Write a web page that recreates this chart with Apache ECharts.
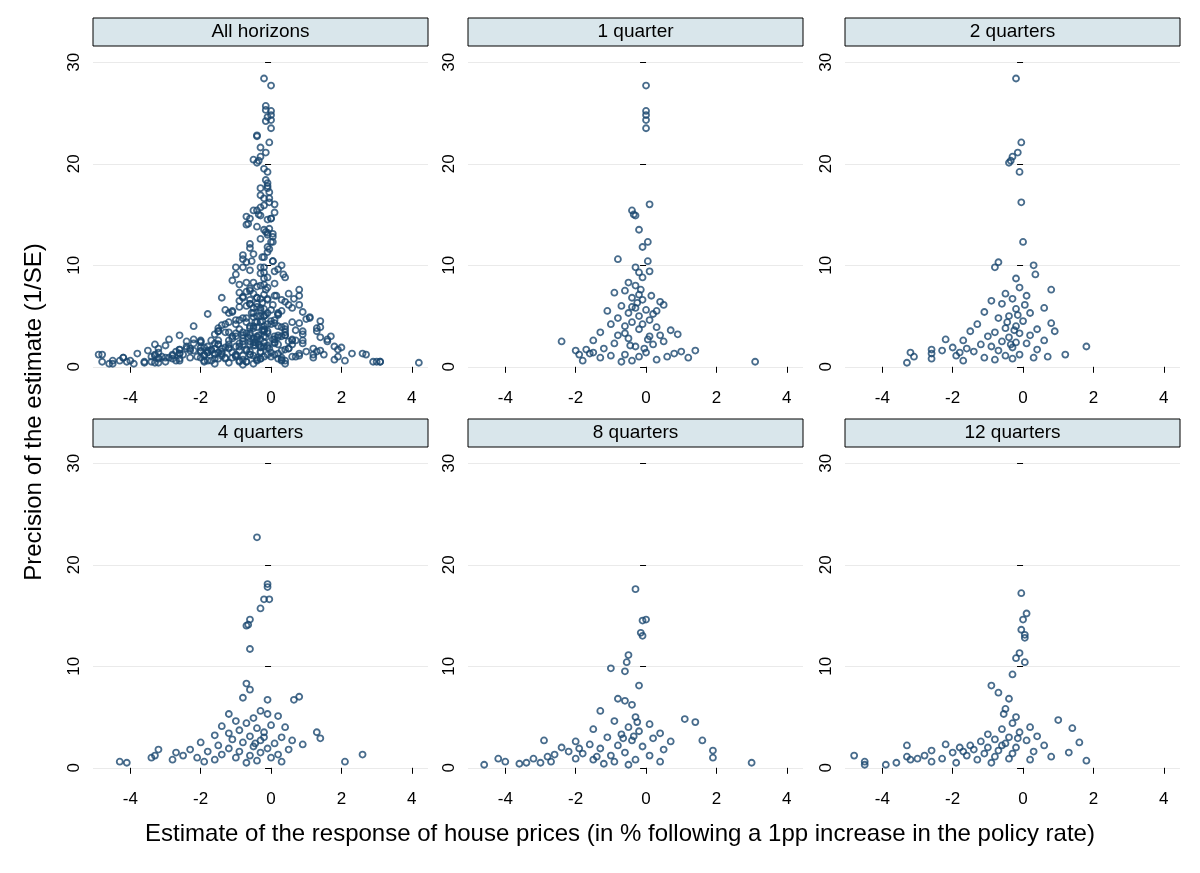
<!DOCTYPE html>
<html><head><meta charset="utf-8">
<script src="https://cdn.jsdelivr.net/npm/echarts@6/dist/echarts.min.js"></script>
<style>html,body{margin:0;background:#fff}#c{width:1200px;height:873px}</style>
</head><body><div id="c"></div>
<script>
var panelTitles = ['All horizons', '1 quarter', '2 quarters', '4 quarters', '8 quarters', '12 quarters'];
var xTicks = [-4, -2, 0, 2, 4];
var yTicks = [0, 10, 20, 30];

var q1 = [[0,27.7],[0,25.2],[0,24.8],[0,24.3],[0,23.5],[0.1,16],[-0.4,15.4],[-0.35,15],[-0.3,14.9],[-0.2,13.5],[0.05,12.3],[-0.1,11.8],[-0.8,10.6],[0.05,10.4],[-0.3,9.8],[-0.2,9.3],[0.1,9.4],[-0.1,8.8],[-0.5,8.3],[-0.3,8],[-0.6,7.5],[-0.9,7.3],[-0.2,7.1],[0.15,7],[-0.4,6.8],[-0.1,6.6],[0.4,6.4],[0.5,6.1],[-0.7,6],[-0.3,5.8],[0,5.6],[-1.1,5.5],[-0.5,5.3],[0.2,5.2],[-0.2,5],[-0.8,4.8],[0.1,4.6],[-0.4,4.4],[-1.0,4.2],[-0.6,4],[0.3,3.9],[-0.2,3.7],[0.7,3.6],[-1.3,3.4],[0.9,3.2],[-0.8,3.1],[0.1,3],[-0.5,2.8],[-1.5,2.6],[0.5,2.5],[-2.4,2.5],[-0.9,2.3],[0.2,2.2],[-1.7,1.7],[-1.2,1.8],[-0.3,2],[1.0,1.5],[1.4,1.6],[-2.0,1.6],[-1.9,1.2],[-1.6,1.3],[-1.0,1.1],[-0.6,1.2],[0.6,1.0],[0.8,1.3],[-0.2,1.0],[0.0,1.4],[-1.8,0.6],[3.1,0.5],[1.2,0.9],[-0.4,0.6],[-1.3,0.9],[0.3,0.7],[-0.7,0.5],[-1.5,1.4],[-0.4,5.9],[-0.1,4.2],[-0.6,3.3],[0.05,2.7],[-0.25,6.3],[-0.15,7.6],[0.3,5.5],[-0.45,2.1],[-0.05,1.8],[0.4,3.1]];
var q2 = [[-0.2,28.4],[-0.05,22.1],[-0.15,21.1],[-0.3,20.7],[-0.35,20.3],[-0.4,20.1],[-0.1,19.2],[-0.05,16.2],[0,12.3],[-0.7,10.3],[-0.8,9.8],[0.3,10],[0.35,9.1],[-0.2,8.7],[-0.1,7.8],[0.8,7.6],[-0.5,7.2],[0.1,7],[-0.3,6.7],[-0.9,6.5],[-0.6,6.2],[0.6,5.8],[-0.2,5.7],[-1.1,5.4],[0.2,5.3],[-0.4,5],[-0.7,4.8],[0.8,4.3],[-1.3,4.2],[0,4.5],[-0.2,4],[-0.5,3.8],[0.4,3.7],[0.9,3.5],[-1.5,3.5],[-0.8,3.4],[-0.1,3.3],[0.2,3.1],[-1.0,3],[-0.4,2.9],[-2.2,2.7],[-1.7,2.6],[0.6,2.6],[-0.6,2.5],[-0.2,2.4],[0.1,2.3],[-1.2,2.2],[-0.9,2],[1.8,2],[-2.0,1.9],[-0.3,1.9],[-1.6,1.8],[0.4,1.7],[-2.6,1.7],[-0.7,1.6],[-3.2,1.4],[-1.4,1.5],[-2.6,1.3],[1.2,1.2],[-0.1,1.2],[-1.9,1.1],[-0.5,1.1],[-3.1,1],[0.7,1.0],[-2.6,0.8],[-1.1,0.9],[-0.3,0.8],[0.3,0.9],[-3.3,0.4],[-1.7,0.6],[-0.8,0.7],[-0.25,3.6],[-0.45,4.4],[-0.15,5.1],[0.05,6.1],[-0.35,2.2],[-1.8,1.4],[-2.3,1.6]];
var q4 = [[-0.4,22.7],[-0.1,18.1],[-0.1,17.8],[-0.2,16.6],[-0.05,16.6],[-0.3,15.7],[-0.6,14.6],[-0.65,14.1],[-0.7,14],[-0.6,11.7],[-0.7,8.3],[-0.6,7.7],[0.8,7],[0.65,6.7],[-0.1,6.7],[-0.8,6.9],[-1.2,5.3],[-0.3,5.6],[-0.1,5.3],[0.2,5.1],[-0.5,4.9],[-1.0,4.6],[-0.7,4.4],[0,4.2],[0.4,4.0],[-1.4,4.1],[-0.4,3.9],[-0.9,3.7],[-0.2,3.5],[1.3,3.5],[-1.6,3.2],[-0.6,3.1],[0.3,3],[1.4,2.9],[-1.1,2.8],[-0.3,2.7],[-2.0,2.5],[-0.8,2.5],[0.1,2.4],[0.9,2.3],[-1.5,2.2],[-0.5,2.1],[-2.3,1.8],[-1.2,1.9],[-0.1,1.9],[0.5,1.8],[-3.2,1.8],[-2.7,1.5],[-1.8,1.6],[-0.9,1.6],[-0.3,1.5],[-2.5,1.2],[-3.3,1.2],[-1.4,1.3],[-0.6,1.2],[0.2,1.3],[2.6,1.3],[-3.4,1],[-2.1,1.0],[-1.0,1.0],[0,1.0],[-2.8,0.8],[-1.6,0.8],[-0.4,0.7],[-4.3,0.6],[-4.1,0.5],[2.1,0.6],[-1.9,0.6],[0.3,0.6],[-0.7,0.5],[-0.2,3.0],[-0.45,2.4],[-1.2,3.4],[0.6,2.7]];
var q8 = [[-0.3,17.6],[-0.1,14.5],[0,14.6],[-0.15,13.3],[-0.1,13],[-0.5,11.1],[-0.55,10.4],[-1,9.8],[-0.6,9.5],[-0.2,8.1],[-0.8,6.8],[-0.6,6.6],[-0.4,6.2],[1.1,4.8],[1.4,4.5],[1.6,2.7],[1.9,1.7],[1.9,1],[3,0.5],[-4.6,0.3],[-4.2,0.9],[-4,0.6],[-3.6,0.4],[-3,0.5],[-2.8,1.1],[-2.9,2.7],[-1.3,5.6],[-0.3,5.0],[-0.9,4.6],[0.1,4.3],[-0.5,4.0],[-1.5,3.8],[-0.2,3.6],[0.4,3.4],[-0.7,3.3],[-1.1,3.0],[0.2,2.9],[-2.0,2.6],[-0.4,2.7],[0.7,2.6],[-1.6,2.3],[-0.8,2.2],[-2.4,2.0],[-0.1,2.1],[-1.3,1.9],[0.5,1.8],[-2.2,1.6],[-1.8,1.4],[-0.6,1.5],[-2.6,1.3],[-1.0,1.2],[0.1,1.2],[-3.2,0.9],[-2.0,0.9],[-1.5,0.8],[-0.3,0.8],[-2.7,0.6],[-0.9,0.6],[0.4,0.6],[-3.4,0.5],[-1.2,0.4],[-0.5,0.3],[-0.35,3.1],[-0.65,2.9],[-0.25,4.5],[-1.9,1.9],[-1.4,1.1]];
var q12 = [[-0.05,17.2],[0.1,15.2],[0,14.6],[-0.05,13.6],[0.05,13.1],[0.05,12.8],[-0.1,11.3],[-0.2,10.8],[0.05,10.4],[-0.3,9.2],[-0.9,8.1],[-0.7,7.4],[-0.4,6.8],[-0.55,5.3],[-0.5,5.8],[1,4.7],[1.4,3.9],[1.6,2.5],[1.8,0.7],[1.3,1.5],[-4.8,1.2],[-4.5,0.6],[-4.5,0.3],[-3.9,0.3],[-3.3,2.2],[-3.3,1.1],[-3.2,0.8],[-2.2,2.3],[-1.2,2.6],[-0.2,5.0],[-0.3,4.4],[0.2,4.0],[-0.6,3.8],[-0.1,3.5],[-1.0,3.3],[0.4,3.1],[-0.4,3.0],[-0.8,2.8],[0.1,2.7],[-1.5,2.2],[-0.5,2.4],[0.6,2.2],[-1.8,2.0],[-1.0,2.0],[-0.2,2.0],[-2.6,1.7],[-1.4,1.8],[-0.7,1.7],[0.3,1.6],[-2.0,1.5],[-1.1,1.4],[-0.3,1.4],[-2.8,1.2],[-1.6,1.2],[-0.8,1.1],[0.8,1.1],[-3.0,0.9],[-2.3,0.9],[-1.3,0.8],[-0.4,0.9],[-2.6,0.6],[-1.9,0.5],[-0.9,0.5],[0.2,0.8],[-3.6,0.5],[-0.15,2.9],[-0.6,2.2],[-1.7,1.6]];
var otherHorizons = [[-0.15,25.7],[-0.15,25.3],[-0.1,24.6],[-0.15,24.2],[-0.4,22.8],[-0.3,21.6],[-0.5,20.4],[-0.2,19.5],[-0.15,18.4],[-0.1,17.6],[-0.3,16.9],[-0.2,15.9],[-0.5,15.4],[-0.7,14.8],[-0.4,13.8],[-0.1,13.2],[-0.3,12.6],[-0.6,12.1],[-0.05,11.6],[-0.8,11.0],[-0.25,10.8],[0.2,9.6],[-1.0,9.1],[0.4,8.8],[-1.1,8.5],[0.5,7.2],[-1.4,6.8],[0.8,6.1],[0.9,5.4],[1.1,4.9],[-1.8,5.2],[-2.2,4.0],[1.3,3.8],[1.7,3.0],[-2.6,3.1],[-3.0,2.1],[2.0,1.9],[2.3,1.3],[2.7,1.2],[-3.5,1.6],[-3.8,1.3],[-4.2,0.9],[-4.9,1.2],[-4.8,0.5],[2.9,0.5],[3.1,0.5],[4.2,0.4],[-0.4,7.9],[-0.2,9.8],[0.1,8.2],[-0.6,6.2],[-0.9,5.9],[0.3,6.6],[-1.2,4.4],[0.6,4.4],[-1.5,3.5],[0.9,2.6],[-2.0,2.4],[-2.4,1.8],[1.2,1.8],[1.5,1.2],[-2.9,0.9],[-3.2,0.4],[-1.6,0.3],[0.4,0.3],[-0.8,0.2]];

var allH = [].concat(q1, q2, q4, q8, q12, otherHorizons);
var panelData = [allH, q1, q2, q4, q8, q12];

var lefts = [93, 468, 845], tops = [46, 447], W = 335, H = 334;
var grids = [], xAxes = [], yAxes = [], series = [], graphics = [];
panelData.forEach(function (d, i) {
    var col = i % 3, row = Math.floor(i / 3);
    grids.push({ left: lefts[col], top: tops[row], width: W, height: H });
    xAxes.push({
        gridIndex: i, type: 'value', min: -5.06, max: 4.46, interval: 2,
        axisLine: { show: false },
        axisTick: { show: true, length: 6, lineStyle: { color: '#000' }, customValues: xTicks },
        axisLabel: { color: '#000', fontSize: 17, fontFamily: 'Liberation Sans', margin: 10, customValues: xTicks },
        splitLine: { show: false }
    });
    yAxes.push({
        gridIndex: i, type: 'value', min: -1.3, max: 31.6,
        axisLine: { show: false },
        axisTick: { show: true, length: 6, lineStyle: { color: '#000' }, customValues: yTicks },
        axisLabel: { color: '#000', fontSize: 17, fontFamily: 'Liberation Sans', rotate: 90, margin: 10, customValues: yTicks },
        splitLine: { show: true, lineStyle: { color: '#eaeaea', width: 1.2 }, customValues: yTicks }
    });
    series.push({
        type: 'scatter', xAxisIndex: i, yAxisIndex: i, data: d, symbol: 'circle', symbolSize: 6,
        itemStyle: { color: 'rgba(0,0,0,0)', borderColor: '#1a476f', borderWidth: 1.8 }
    });
    graphics.push({
        type: 'rect', shape: { x: lefts[col], y: tops[row] - 28, width: W, height: 28 },
        style: { fill: '#d9e6eb', stroke: '#000', lineWidth: 1 }
    });
    graphics.push({
        type: 'text', x: lefts[col] + W / 2, y: tops[row] - 14,
        style: { text: panelTitles[i], fill: '#000', font: '19px "Liberation Sans"', align: 'center', verticalAlign: 'middle' }
    });
});
graphics.push({ type: 'text', x: 620, y: 834, style: { text: 'Estimate of the response of house prices (in % following a 1pp increase in the policy rate)', fill: '#000', font: '24px "Liberation Sans"', align: 'center', verticalAlign: 'middle' } });
graphics.push({ type: 'text', x: 34, y: 412, rotation: Math.PI / 2, style: { text: 'Precision of the estimate (1/SE)', fill: '#000', font: '24px "Liberation Sans"', align: 'center', verticalAlign: 'middle' } });

var chart = echarts.init(document.getElementById('c'));
chart.setOption({ animation: false, grid: grids, xAxis: xAxes, yAxis: yAxes, series: series, graphic: graphics });
</script></body></html>
